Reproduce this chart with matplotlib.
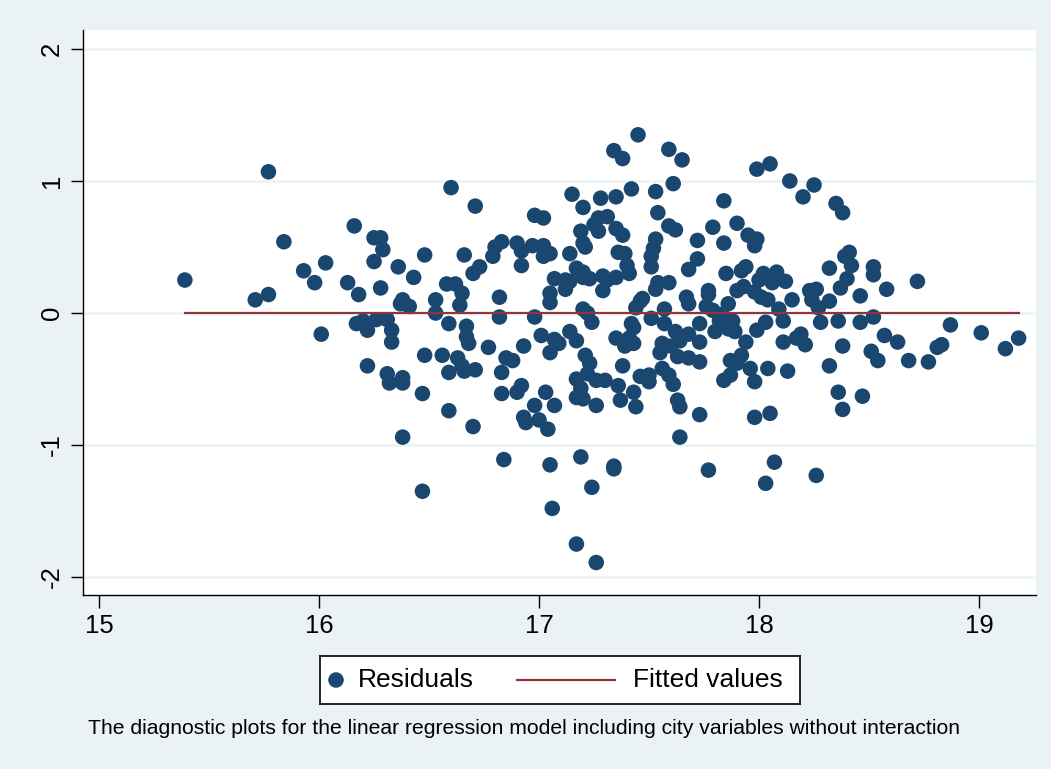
import numpy as np
import matplotlib
matplotlib.use("Agg")
import matplotlib.pyplot as plt

plt.rcParams['font.family'] = ['Liberation Sans', 'DejaVu Sans']

# residual points (fitted value, residual)
fitted = [
    15.39, 15.71, 15.77, 15.77, 15.84, 15.93, 15.98, 16.01, 16.03, 16.13,
    16.16, 16.18, 16.17, 16.20, 16.22, 16.22, 16.25, 16.28, 16.25, 16.29,
    16.28, 16.26, 16.31, 16.33, 16.33, 16.31, 16.32, 16.36, 16.38, 16.37,
    16.38, 16.38, 16.38, 16.41, 16.43, 16.48, 16.48, 16.47, 16.47, 16.53,
    16.53, 16.56, 16.58, 16.59, 16.59, 16.59, 16.60, 16.62, 16.63, 16.64,
    16.65, 16.66, 16.65, 16.66, 16.67, 16.67, 16.68, 16.70, 16.71, 16.70,
    16.71, 16.73, 16.77, 16.79, 16.80, 16.83, 16.82, 16.82, 16.83, 16.83,
    16.84, 16.85, 16.88, 16.90, 16.90, 16.92, 16.92, 16.92, 16.93, 16.93,
    16.94, 16.97, 16.98, 16.98, 16.98, 17.00, 17.01, 17.02, 17.02, 17.02,
    17.03, 17.04, 17.05, 17.05, 17.05, 17.05, 17.05, 17.06, 17.07, 17.07,
    17.07, 17.09, 17.12, 17.12, 17.14, 17.14, 17.14, 17.15, 17.17, 17.17,
    17.17, 17.17, 17.17, 17.19, 17.20, 17.19, 17.19, 17.20, 17.20, 17.20,
    17.20, 17.20, 17.21, 17.21, 17.22, 17.22, 17.23, 17.23, 17.24, 17.24,
    17.25, 17.26, 17.26, 17.26, 17.27, 17.27, 17.28, 17.29, 17.29, 17.30,
    17.31, 17.31, 17.34, 17.34, 17.34, 17.35, 17.35, 17.35, 17.35, 17.36,
    17.36, 17.37, 17.38, 17.38, 17.38, 17.39, 17.39, 17.40, 17.41, 17.41,
    17.42, 17.42, 17.43, 17.43, 17.43, 17.44, 17.44, 17.45, 17.46, 17.46,
    17.47, 17.50, 17.50, 17.51, 17.51, 17.52, 17.53, 17.51, 17.53, 17.53,
    17.54, 17.54, 17.55, 17.56, 17.57, 17.57, 17.56, 17.59, 17.59, 17.59,
    17.59, 17.60, 17.61, 17.61, 17.62, 17.62, 17.63, 17.64, 17.64, 17.63,
    17.64, 17.65, 17.67, 17.68, 17.68, 17.68, 17.68, 17.72, 17.72, 17.73,
    17.73, 17.73, 17.73, 17.76, 17.77, 17.77, 17.77, 17.79, 17.79, 17.80,
    17.82, 17.83, 17.84, 17.84, 17.84, 17.85, 17.86, 17.86, 17.87, 17.87,
    17.88, 17.89, 17.90, 17.90, 17.90, 17.92, 17.92, 17.93, 17.94, 17.94,
    17.95, 17.96, 17.98, 17.98, 17.98, 17.98, 17.99, 17.99, 17.99, 18.00,
    18.01, 18.02, 18.03, 18.03, 18.04, 18.04, 18.05, 18.05, 18.06, 18.07,
    18.08, 18.09, 18.11, 18.11, 18.12, 18.13, 18.14, 18.15, 18.17, 18.19,
    18.20, 18.21, 18.23, 18.24, 18.25, 18.26, 18.26, 18.27, 18.28, 18.32,
    18.32, 18.32, 18.35, 18.36, 18.36, 18.37, 18.38, 18.38, 18.38, 18.39,
    18.40, 18.41, 18.42, 18.46, 18.46, 18.47, 18.51, 18.52, 18.52, 18.52,
    18.54, 18.58, 18.57, 18.63, 18.68, 18.72, 18.77, 18.81, 18.83, 18.87,
    19.01, 19.12, 19.18,
]
residuals = [
    0.25, 0.10, 1.07, 0.14, 0.54, 0.32, 0.23, -0.16, 0.38, 0.23,
    0.66, 0.14, -0.08, -0.06, -0.13, -0.40, 0.57, 0.57, 0.39, 0.48,
    0.19, -0.05, -0.05, -0.13, -0.22, -0.46, -0.53, 0.35, 0.10, 0.07,
    -0.49, -0.53, -0.94, 0.05, 0.27, 0.44, -0.32, -0.61, -1.35, 0.10,
    0.00, -0.32, 0.22, -0.74, -0.08, -0.45, 0.95, 0.22, -0.34, 0.06,
    0.15, 0.44, -0.40, -0.44, -0.10, -0.18, -0.23, 0.30, 0.81, -0.86,
    -0.43, 0.35, -0.26, 0.43, 0.50, 0.54, 0.12, -0.03, -0.45, -0.61,
    -1.11, -0.34, -0.36, 0.53, -0.60, -0.55, 0.47, 0.36, -0.25, -0.79,
    -0.83, 0.51, -0.03, 0.74, -0.70, -0.81, -0.17, 0.51, 0.72, 0.43,
    -0.60, -0.88, -1.15, 0.45, 0.08, 0.15, -0.30, -1.48, -0.70, 0.26,
    -0.20, -0.23, 0.25, 0.18, 0.45, 0.24, -0.14, 0.90, -0.21, -0.64,
    -0.50, -1.75, 0.34, 0.62, 0.80, -1.09, -0.57, 0.03, -0.65, 0.27,
    0.53, 0.31, -0.32, 0.50, -0.46, 0.00, -0.38, 0.26, -1.32, -0.07,
    0.67, -0.70, -1.89, -0.51, 0.72, 0.62, 0.87, 0.17, 0.28, -0.51,
    0.73, 0.25, 1.23, -1.16, -1.18, -0.19, 0.64, 0.27, 0.88, 0.46,
    -0.55, -0.66, 0.59, 1.17, -0.40, 0.45, -0.25, 0.36, 0.30, -0.19,
    0.94, -0.08, -0.60, -0.23, -0.11, -0.71, 0.04, 1.35, 0.09, -0.48,
    0.11, -0.47, -0.52, 0.35, 0.43, 0.49, 0.56, -0.04, 0.18, 0.92,
    0.23, 0.76, -0.30, -0.23, -0.08, 0.03, -0.42, 1.24, -0.47, 0.66,
    0.23, -0.25, -0.54, 0.98, 0.63, -0.14, -0.66, -0.71, -0.94, -0.33,
    -0.21, 1.16, 0.12, 0.07, -0.16, -0.34, 0.33, 0.41, 0.55, -0.08,
    -0.22, -0.37, -0.77, 0.05, 0.14, 0.17, -1.19, 0.65, 0.02, -0.14,
    -0.06, -0.01, 0.85, 0.53, -0.51, 0.30, -0.12, 0.07, -0.36, -0.47,
    -0.06, -0.14, 0.68, 0.17, -0.38, -0.32, 0.32, 0.20, 0.35, -0.22,
    0.59, -0.42, -0.79, -0.52, 0.16, 0.51, 0.56, 1.09, -0.13, 0.25,
    0.12, 0.30, -0.07, -1.29, -0.42, 0.10, 1.13, -0.76, 0.23, -1.13,
    0.31, 0.03, -0.06, -0.22, 0.24, -0.44, 1.00, 0.10, -0.19, -0.16,
    0.88, -0.24, 0.17, 0.10, 0.97, -1.23, 0.18, 0.04, -0.07, 0.34,
    -0.40, 0.09, 0.83, -0.06, -0.60, 0.19, 0.76, -0.25, -0.73, 0.43,
    0.26, 0.46, 0.36, 0.13, -0.07, -0.63, -0.29, 0.35, 0.29, -0.03,
    -0.36, 0.18, -0.17, -0.22, -0.36, 0.24, -0.37, -0.26, -0.24, -0.09,
    -0.15, -0.27, -0.19,
]
line_x = [15.39, 19.18]
line_y = [0.0, 0.0]

xticks = [15, 16, 17, 18, 19]
yticks = [-2, -1, 0, 1, 2]
legend_labels = ['Residuals', 'Fitted values']
caption = "The diagnostic plots for the linear regression model including city variables without interaction"

bg = '#eaf2f3'
navy = '#1a476f'
maroon = '#90353b'

W, H = 1051, 769
fig = plt.figure(figsize=(W / 100, H / 100), dpi=100, facecolor=bg)
ax = fig.add_axes([83 / W, 1 - 595 / H, (1036 - 83) / W, (595 - 30) / H])
ax.set_facecolor('white')

for yv in yticks:
    ax.axhline(yv, color=bg, lw=1.8, zorder=0)

ax.scatter(fitted, residuals, s=125, color=navy, edgecolors='none', zorder=3)
ax.plot(line_x, line_y, color=maroon, lw=1.6, zorder=4)

ax.set_xlim(14.927, 19.259)
ax.set_ylim(-2.136, 2.144)
ax.set_xticks(xticks)
ax.set_yticks(yticks)
ax.set_xticklabels([str(t) for t in xticks], fontsize=18.5)
ax.set_yticklabels([str(t) for t in yticks], fontsize=18.5, rotation=90, va='center')
ax.tick_params(axis='both', direction='out', length=9, width=1, color='black')
ax.tick_params(axis='x', pad=5)
ax.tick_params(axis='y', pad=5)

for side in ['top', 'right']:
    ax.spines[side].set_visible(False)
for side in ['left', 'bottom']:
    ax.spines[side].set_color('black')
    ax.spines[side].set_linewidth(1)

# legend box drawn in its own small axes (pixel units inside the box)
lx0, lx1, ly0, ly1 = 320, 800, 656, 704
lax = fig.add_axes([lx0 / W, 1 - ly1 / H, (lx1 - lx0) / W, (ly1 - ly0) / H])
lax.set_xlim(0, lx1 - lx0)
lax.set_ylim(0, ly1 - ly0)
lax.set_facecolor('white')
lax.set_xticks([])
lax.set_yticks([])
for sp in lax.spines.values():
    sp.set_color('black')
    sp.set_linewidth(1.2)
mid = (ly1 - ly0) / 2
lax.scatter([16], [mid], s=125, color=navy, edgecolors='none')
lax.text(38, mid, legend_labels[0], fontsize=19, va='center', ha='left')
lax.plot([197, 295], [mid, mid], color=maroon, lw=1.6)
lax.text(313, mid, legend_labels[1], fontsize=19, va='center', ha='left')

fig.text(88 / W, 1 - 728 / H, caption, fontsize=15.2, va='center', ha='left')

fig.savefig('out.png', dpi=100, facecolor=bg)
